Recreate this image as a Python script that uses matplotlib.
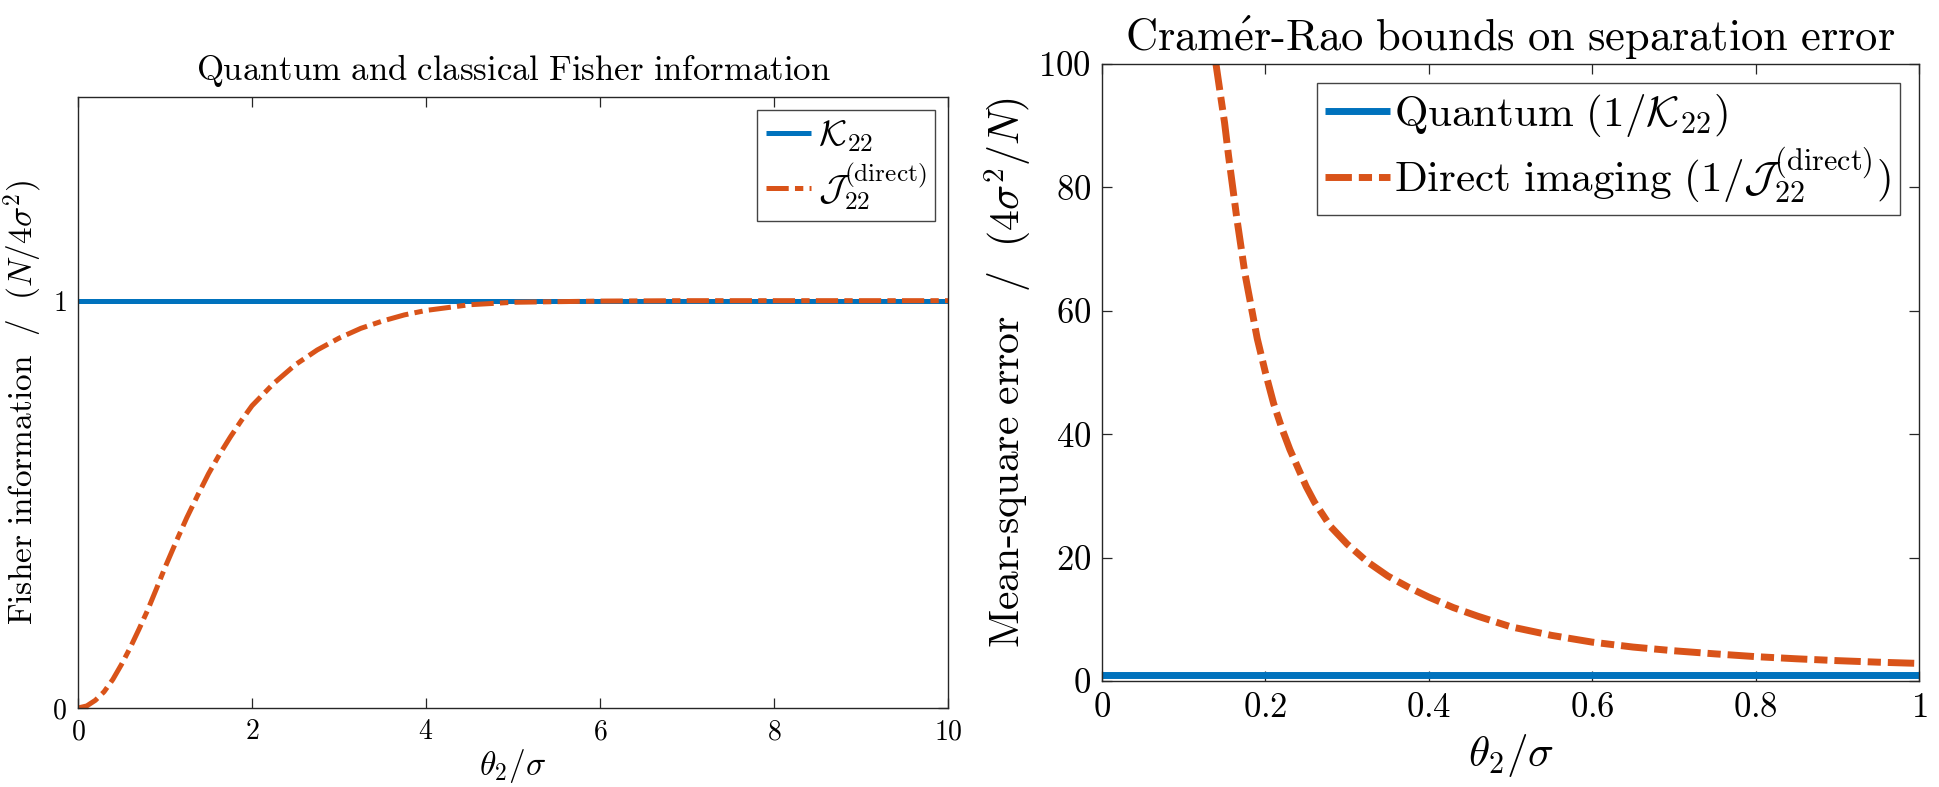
import matplotlib
matplotlib.use('Agg')
import matplotlib.pyplot as plt
from matplotlib.ticker import FixedLocator, FixedFormatter

plt.rcParams['mathtext.fontset'] = 'cm'
plt.rcParams['font.family'] = ['cmr10', 'DejaVu Serif']
plt.rcParams['axes.unicode_minus'] = False
plt.rcParams['lines.scale_dashes'] = False

# ---------------- data ----------------
# Left panel: Fisher information (units of N/4sigma^2)
theta_left = [0.0, 0.1, 0.2, 0.3, 0.4, 0.5, 0.6, 0.7, 0.8, 0.9, 1.0, 1.125, 1.25,
              1.375, 1.5, 1.625, 1.75, 1.875, 2.0, 2.25, 2.5, 2.75, 3.0, 3.25,
              3.5, 3.75, 4.0, 4.5, 5.0, 6.0, 7.0, 8.0, 9.0, 10.0]
J_direct = [0.0, 0.005, 0.019, 0.040, 0.070, 0.107, 0.148, 0.193, 0.240, 0.292,
            0.345, 0.407, 0.467, 0.522, 0.575, 0.622, 0.665, 0.705, 0.742, 0.797,
            0.843, 0.879, 0.908, 0.932, 0.950, 0.965, 0.976, 0.990, 0.996, 0.999,
            1.0, 1.0, 1.0, 1.0]
theta_K = [0.0, 10.0]
K22 = [1.0, 1.0]

# Right panel: Cramer-Rao bounds (units of 4sigma^2/N)
theta_right = [0.1395, 0.145, 0.15, 0.155, 0.16, 0.165, 0.17, 0.175, 0.18, 0.19,
               0.2, 0.21, 0.22, 0.23, 0.24, 0.25, 0.26, 0.28, 0.3, 0.325, 0.35,
               0.375, 0.4, 0.43, 0.46, 0.5, 0.55, 0.6, 0.65, 0.7, 0.75, 0.8,
               0.85, 0.9, 0.95, 1.0]
mse_direct = [100.0, 95.0, 90.5, 85.0, 80.0, 75.0, 70.5, 66.0, 62.5, 55.5,
              50.0, 45.0, 41.0, 37.5, 34.5, 31.5, 29.0, 25.0, 22.2, 19.3, 17.0,
              15.2, 13.6, 11.9, 10.5, 8.8, 7.4, 6.3, 5.5, 4.9, 4.4, 3.95,
              3.6, 3.3, 3.05, 2.85]
theta_Q = [0.0, 1.0]
mse_quantum = [1.0, 1.0]

left_xticks = [0, 2, 4, 6, 8, 10]
left_yticks = [0, 1]
right_xticks = [0, 0.2, 0.4, 0.6, 0.8, 1.0]
right_xticklabels = ['0', '0.2', '0.4', '0.6', '0.8', '1']
right_yticks = [0, 20, 40, 60, 80, 100]

BLUE = '#0072BD'
ORANGE = '#D95319'
AXC = '#262626'

fig = plt.figure(figsize=(19.39, 7.87), dpi=100)

def style_axes(ax, fs):
    for s in ax.spines.values():
        s.set_color(AXC)
        s.set_linewidth(1.0)
    ax.tick_params(direction='in', top=True, right=True, length=7, width=0.9,
                   color=AXC, labelcolor='black', labelsize=fs, pad=8)

def mlabels(vals):
    return ['$%s$' % v for v in vals]

# ---------------- left panel ----------------
axL = fig.add_axes([78/1939, 79/787, 870/1939, 611/787])
axL.plot(theta_K, K22, color=BLUE, lw=3.6, solid_capstyle='butt',
         label=r'$\mathcal{K}_{22}$')
axL.plot(theta_left, J_direct, color=ORANGE, lw=3.6, dash_capstyle='butt',
         dashes=(16, 4.5, 6, 4.5), label=r'$\mathcal{J}_{22}^{(\mathrm{direct})}$')
axL.set_xlim(0, 10)
axL.set_ylim(0, 1.5)
axL.xaxis.set_major_locator(FixedLocator(left_xticks))
axL.xaxis.set_major_formatter(FixedFormatter(mlabels(left_xticks)))
axL.yaxis.set_major_locator(FixedLocator(left_yticks))
axL.yaxis.set_major_formatter(FixedFormatter(mlabels(left_yticks)))
style_axes(axL, 20)
axL.set_title(r'$\mathrm{Quantum\ and\ classical\ Fisher\ information}$',
              fontsize=25, pad=12)
axL.set_xlabel(r'$\theta_2/\sigma$', fontsize=24, labelpad=1)
axL.set_ylabel(r'$\mathrm{Fisher\ information}\ \ /\ \ (N/4\sigma^2)$', fontsize=24,
               labelpad=5)
legL = axL.legend(loc='upper right', fontsize=26, handlelength=1.25,
                  handletextpad=0.2, borderpad=0.25, labelspacing=0.2,
                  borderaxespad=0.35, fancybox=False, framealpha=1)
legL.get_frame().set_edgecolor('#444444')
legL.get_frame().set_linewidth(1.0)

# ---------------- right panel ----------------
axR = fig.add_axes([1102/1939, 106/787, 817/1939, 617/787])
axR.plot(theta_Q, mse_quantum, color=BLUE, lw=5.0, solid_capstyle='butt',
         label=r'$\mathrm{Quantum}\ (1/\mathcal{K}_{22})$')
axR.plot(theta_right, mse_direct, color=ORANGE, lw=5.0, dash_capstyle='butt',
         dashes=(19, 5, 9.5, 5),
         label=r'$\mathrm{Direct\ imaging}\ (1/\mathcal{J}_{22}^{(\mathrm{direct})})$')
axR.set_xlim(0, 1)
axR.set_ylim(0, 100)
axR.xaxis.set_major_locator(FixedLocator(right_xticks))
axR.xaxis.set_major_formatter(FixedFormatter(mlabels(right_xticklabels)))
axR.yaxis.set_major_locator(FixedLocator(right_yticks))
axR.yaxis.set_major_formatter(FixedFormatter(mlabels(right_yticks)))
style_axes(axR, 25)
axR.set_title(r'$\mathrm{Cram\acute{e}r}$-$\mathrm{Rao\ bounds\ on\ separation\ error}$',
              fontsize=32, pad=9)
axR.set_xlabel(r'$\theta_2/\sigma$', fontsize=31, labelpad=6)
axR.set_ylabel(r'$\mathrm{Mean}$-$\mathrm{square\ error}\ \ /\ \ (4\sigma^2/N)$',
               fontsize=30, labelpad=3)
legR = axR.legend(loc='upper right', fontsize=31, handlelength=1.5,
                  handletextpad=0.1, borderpad=0.2, labelspacing=0.15,
                  borderaxespad=0.45, fancybox=False, framealpha=1)
legR.get_frame().set_edgecolor('#444444')
legR.get_frame().set_linewidth(1.0)

fig.savefig('out.png', dpi=100)
